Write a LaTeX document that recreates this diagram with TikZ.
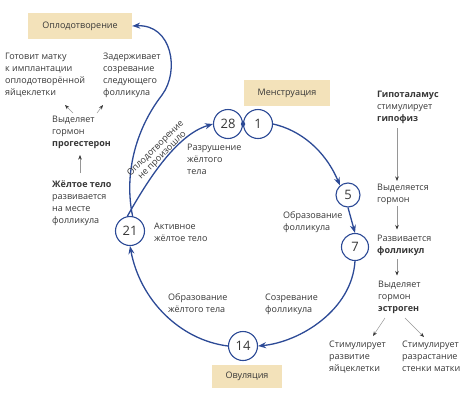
\documentclass[tikz,border=0pt]{standalone}
\usepackage{fontspec}
\setmainfont{Open Sans}
\usetikzlibrary{arrows.meta}

\definecolor{cycblue}{RGB}{44,74,150}
\definecolor{boxtan}{RGB}{243,226,186}
\definecolor{ink}{RGB}{55,55,55}
\definecolor{hintgray}{RGB}{150,150,150}

\tikzset{
  day/.style={circle, draw=cycblue, line width=1.1pt, fill=white, minimum size=29pt,
    inner sep=0pt, font=\fontsize{13}{13}\selectfont, text=ink},
  phase/.style={fill=boxtan, minimum width=86pt, minimum height=26pt, inner sep=0pt,
    font=\fontsize{9}{11}\selectfont, text=ink},
  note/.style={anchor=north west, inner sep=0pt, align=left,
    font=\fontsize{9}{12}\selectfont, text=ink},
  cyc/.style={draw=cycblue, line width=1.3pt, -{Stealth[length=8pt,width=6pt]}},
  hint/.style={draw=hintgray, line width=0.5pt, -{Stealth[length=4.5pt,width=3.5pt,color=ink]}},
}

\begin{document}
\begin{tikzpicture}[x=1pt,y=-1pt]
\useasboundingbox (0,0) rectangle (464,400);

% phases of the cycle
\node[phase, minimum width=104pt] (ferti) at (80,26) {Оплодотворение};
\node[phase] (menstr) at (287,93) {Менструация};
\node[phase, minimum width=70pt, minimum height=23pt] (ovul) at (247,376) {Овуляция};

% days of the cycle
\node[day] (d28) at (228,124) {28};
\node[day] (d1) at (258,124) {1};
\node[day, minimum size=24pt] (d5) at (348,195) {5};
\node[day, minimum size=27pt] (d7) at (355,247) {7};
\node[day] (d14) at (243,346) {14};
\node[day] (d21) at (130,231) {21};
\fill[cycblue] (d28.east) circle (2.2pt);

% cycle arcs
\draw[cyc] (d21.80) .. controls (124,175) and (135,130) .. (162,95)
  .. controls (180,71) and (172,24) .. (ferti.east);
\draw[cyc] (d21.100) .. controls (145,185) and (175,135) .. (d28.west);
\draw[cyc] (d1.east) .. controls (300,130) and (325,150) .. (d5.130);
\draw[cyc] (d5.south) -- (d7.north);
\draw[cyc] (d7.south) .. controls (352,310) and (300,342) .. (d14.east);
\draw[cyc] (d14.west) .. controls (180,340) and (140,300) .. (d21.south);

\node[rotate=45, align=center, inner sep=0pt, text=ink,
  font=\fontsize{9}{9.5}\selectfont] (nofert) at (159,152) {Оплодотворение\\не произошло};

% labels along the cycle
\node[note] (destr) at (187,143.5) {Разрушение\\жёлтого\\тела};
\node[note] (foll) at (283,211.5) {Образование\\фолликула};
\node[note] (matur) at (265,293.5) {Созревание\\фолликула};
\node[note] (cform) at (168,293.5) {Образование\\жёлтого тела};
\node[note] (active) at (154,222.5) {Активное\\жёлтое тело};

% left column: progesterone
\node[note] (prep) at (5,52.5) {Готовит матку\\к имплантации\\оплодотворённой\\яйцеклетки};
\node[note] (delay) at (103,52.5) {Задерживает\\созревание\\следующего\\фолликула};
\node[note] (prog) at (52,115.5) {Выделяет\\гормон\\\textbf{прогестерон}};
\node[note] (corpus) at (52,181) {\textbf{Жёлтое тело}\\развивается\\на месте\\фолликула};

\draw[hint] ([shift={(21,-2.5)}]prog.north west) -- ([shift={(60,52.5)}]prep.north west);
\draw[hint] ([shift={(45,-2.5)}]prog.north west) -- ([shift={(0,52.5)}]delay.north west);
\draw[hint] ([shift={(28,-8)}]corpus.north west) -- ([shift={(28,39.5)}]prog.north west);

% right column: estrogen
\node[note] (hypo) at (377,90.5) {\textbf{Гипоталамус}\\стимулирует\\\textbf{гипофиз}};
\node[note] (secr) at (377,183.5) {Выделяется\\гормон};
\node[note] (devel) at (377,234.5) {Развивается\\\textbf{фолликул}};
\node[note] (estr) at (378,280.5) {Выделяет\\гормон\\\textbf{эстроген}};
\node[note] (egg) at (329,340.5) {Стимулирует\\развитие\\яйцеклетки};
\node[note] (wall) at (402,340.5) {Стимулирует\\разрастание\\стенки матки};

\draw[hint] ([shift={(20,37.5)}]hypo.north west) -- ([shift={(20,-2.5)}]secr.north west);
\draw[hint] ([shift={(20,22.5)}]secr.north west) -- ([shift={(20,-5)}]devel.north west);
\draw[hint] ([shift={(20,24.5)}]devel.north west) -- ([shift={(19,-5)}]estr.north west);
\draw[hint] ([shift={(7,37.5)}]estr.north west) -- ([shift={(44,-4.5)}]egg.north west);
\draw[hint] ([shift={(27,37.5)}]estr.north west) -- ([shift={(22,-3.5)}]wall.north west);
\end{tikzpicture}
\end{document}
